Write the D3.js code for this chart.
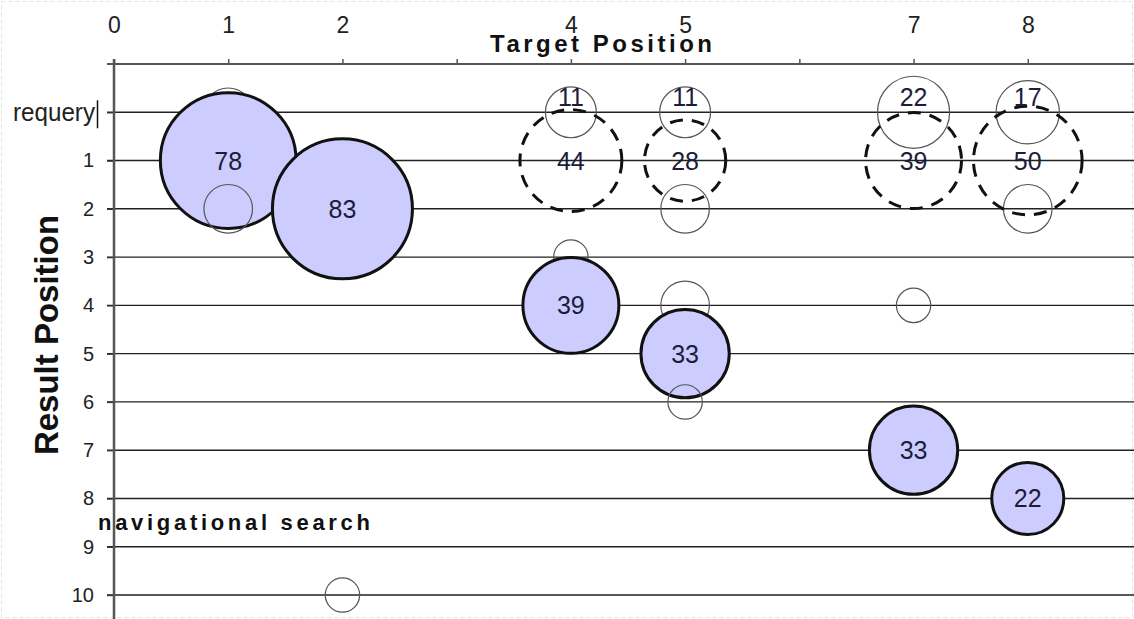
<!DOCTYPE html>
<html>
<head>
<meta charset="utf-8">
<script src="https://cdn.jsdelivr.net/npm/d3@7"></script>
<style>
    body { margin: 0; background: #fff; }
    svg { display: block; font-family: "Liberation Sans", Arial, sans-serif; }
</style>
</head>
<body>
<div id="chart"></div>
<script>
//画布
const width = 1134;
const height = 619;

//点击的结果（蓝色实心圆）
const clickTarget = [1, 2, 4, 5, 7, 8];
const clickResult = [1, 2, 4, 5, 7, 8];
const clickCount = [78, 83, 39, 33, 33, 22];

//第1位结果（虚线圆）
const firstTarget = [4, 5, 7, 8];
const firstCount = [44, 28, 39, 50];

//requery 行
const requeryTarget = [1, 4, 5, 7, 8];
const requeryCount = [10, 11, 11, 22, 17];
const requeryLabel = ["", "11", "11", "22", "17"];

//其他点击（细线圆，无标签）
const otherTarget = [1, 4, 5, 5, 5, 7, 8, 2];
const otherResult = [2, 3, 2, 4, 6, 4, 2, 10];
const otherCount = [10, 5, 10, 10, 5, 5, 10, 5];

//坐标轴
const xTicks = [0, 1, 2, 3, 4, 5, 6, 7, 8];
const xTickLabels = [0, 1, 2, 4, 5, 7, 8];
const yRows = [0, 1, 2, 3, 4, 5, 6, 7, 8, 9, 10];

var svg = d3.select("#chart").append("svg")
    .attr("width", width).attr("height", height);

var x = d3.scaleLinear().domain([0, 9]).range([114, 1142]);
var y = d3.scaleLinear().domain([-1, 10]).range([64, 595]);
var r = d3.scaleSqrt().domain([0, 83]).range([0, 70]);

//淡虚线边框
svg.append("rect")
    .attr("x", 1.5).attr("y", 1.5)
    .attr("width", width - 3).attr("height", height - 3)
    .attr("fill", "none").attr("stroke", "#e4e4e4")
    .attr("stroke-dasharray", "4,3");

//横向网格线
svg.append("g").selectAll("line")
    .data(yRows).enter().append("line")
    .attr("x1", 107).attr("x2", width)
    .attr("y1", d => y(d)).attr("y2", d => y(d))
    .attr("stroke", "#222").attr("stroke-width", 1.4);

//上方坐标轴
var xAxis = svg.append("g")
    .attr("transform", "translate(0," + y(-1) + ")")
    .call(d3.axisTop(x).tickValues(xTicks).tickSizeInner(5).tickSizeOuter(0).tickPadding(26)
        .tickFormat(d => xTickLabels.includes(d) ? d : ""));
xAxis.select(".domain").remove();
xAxis.selectAll(".tick line").attr("stroke", "#555").attr("stroke-width", 1.5);
xAxis.selectAll("text").attr("font-size", 23).attr("fill", "#222")
    .attr("font-family", "Liberation Sans, Arial, sans-serif");
svg.append("line")
    .attr("x1", 107).attr("x2", width)
    .attr("y1", y(-1)).attr("y2", y(-1))
    .attr("stroke", "#555").attr("stroke-width", 2.2);

//左侧坐标轴
var yAxis = svg.append("g")
    .attr("transform", "translate(" + x(0) + ",0)")
    .call(d3.axisLeft(y).tickValues(yRows).tickSizeInner(7).tickSizeOuter(0).tickPadding(13)
        .tickFormat(d => d === 0 ? "" : d));
yAxis.select(".domain").remove();
yAxis.selectAll(".tick line").attr("stroke", "#333").attr("stroke-width", 1.4);
yAxis.selectAll("text").attr("font-size", 20).attr("fill", "#222")
    .attr("font-family", "Liberation Sans, Arial, sans-serif");
svg.append("line")
    .attr("x1", x(0)).attr("x2", x(0))
    .attr("y1", y(-1) - 5).attr("y2", height)
    .attr("stroke", "#555").attr("stroke-width", 2.5);

svg.append("text")
    .attr("x", 13).attr("y", y(0) + 9)
    .attr("font-size", 26).attr("fill", "#222")
    .attr("textLength", 82).attr("lengthAdjust", "spacingAndGlyphs")
    .text("requery");
svg.append("line")
    .attr("x1", 97.5).attr("x2", 97.5)
    .attr("y1", y(0) - 12).attr("y2", y(0) + 16)
    .attr("stroke", "#111").attr("stroke-width", 1.5);

//轴标题
svg.append("text")
    .attr("transform", "translate(58," + 335 + ") rotate(-90)")
    .attr("text-anchor", "middle")
    .attr("font-size", 33).attr("font-weight", "bold").attr("fill", "#111")
    .text("Result Position");

svg.append("text")
    .attr("x", 490).attr("y", 52)
    .attr("font-size", 24).attr("font-weight", "bold").attr("fill", "#111")
    .attr("textLength", 222).attr("lengthAdjust", "spacing")
    .text("Target Position");

svg.append("text")
    .attr("x", 98).attr("y", 530)
    .attr("font-size", 22).attr("font-weight", "bold").attr("fill", "#111")
    .attr("textLength", 272).attr("lengthAdjust", "spacing")
    .text("navigational search");

//细线圆
function thin_circles(idx) {
    svg.append("g").selectAll("circle")
        .data(idx).enter().append("circle")
        .attr("cx", i => x(otherTarget[i]))
        .attr("cy", i => y(otherResult[i]))
        .attr("r", i => r(otherCount[i]))
        .attr("fill", "none").attr("stroke", "#555").attr("stroke-width", 1.2);
}

var otherIdx = d3.range(otherTarget.length);
var aboveIdx = otherIdx.filter(i => otherResult[i] < otherTarget[i]);
var belowIdx = otherIdx.filter(i => otherResult[i] > otherTarget[i]);

svg.append("g").selectAll("circle")
    .data(requeryTarget).enter().append("circle")
    .attr("cx", d => x(d)).attr("cy", y(0))
    .attr("r", (d, i) => r(requeryCount[i]))
    .attr("fill", "none").attr("stroke", "#555").attr("stroke-width", 1.2);

thin_circles(aboveIdx);

//蓝色实心圆
svg.append("g").selectAll("circle")
    .data(clickTarget).enter().append("circle")
    .attr("cx", d => x(d))
    .attr("cy", (d, i) => y(clickResult[i]))
    .attr("r", (d, i) => r(clickCount[i]))
    .attr("fill", "#ccccff").attr("stroke", "#111").attr("stroke-width", 3);

thin_circles(belowIdx);

//虚线圆
svg.append("g").selectAll("circle")
    .data(firstTarget).enter().append("circle")
    .attr("cx", d => x(d)).attr("cy", y(1))
    .attr("r", (d, i) => r(firstCount[i]))
    .attr("fill", "none").attr("stroke", "#111").attr("stroke-width", 3)
    .attr("stroke-dasharray", "13,9");

//数值标签
function add_labels(xs, ys, labels, dy) {
    svg.append("g").selectAll("text")
        .data(labels).enter().append("text")
        .attr("x", (d, i) => x(xs[i]))
        .attr("y", (d, i) => y(ys[i]) + dy)
        .attr("text-anchor", "middle")
        .attr("font-size", 25).attr("fill", "#1c1c3a")
        .text(d => d);
}

add_labels(clickTarget, clickResult, clickCount, 9);
add_labels(firstTarget, firstTarget.map(() => 1), firstCount, 9);
add_labels(requeryTarget, requeryTarget.map(() => 0), requeryLabel, -6);
</script>
</body>
</html>
